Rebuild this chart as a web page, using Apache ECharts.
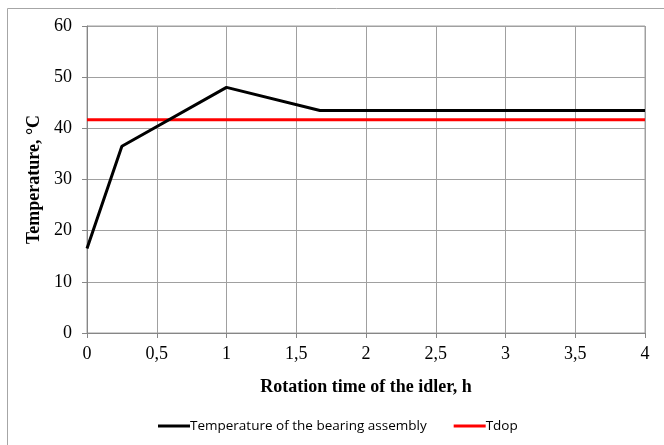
<!DOCTYPE html>
<html>
<head>
<meta charset="utf-8">
<script src="https://cdn.jsdelivr.net/npm/echarts@6/dist/echarts.min.js"></script>
<style>
  html, body { margin: 0; padding: 0; background: #fff; }
  #chart { width: 664px; height: 445px; }
</style>
</head>
<body>
<div id="chart"></div>
<script>
// Bearing assembly temperature over idler rotation time
const timeHours = [0, 0.25, 1, 1.67, 2, 3, 4];
const bearingTemp = [16.5, 36.5, 48, 43.5, 43.5, 43.5, 43.5];
const tdopTime = [0, 4];
const tdopTemp = [41.7, 41.7];

const seriesNames = ['Temperature of the bearing assembly', 'Tdop'];
const xTitle = 'Rotation time of the idler, h';
const yTitle = 'Temperature, °C';

const chart = echarts.init(document.getElementById('chart'));
const serif = '"Liberation Serif", "Times New Roman", serif';

chart.setOption({
  animation: false,
  backgroundColor: '#fff',
  graphic: [{
    type: 'rect',
    shape: { x: 7.5, y: 8.5, width: 700, height: 500 },
    style: { fill: 'none', stroke: '#a6a6a6', lineWidth: 1 },
    silent: true
  }],
  grid: { left: 87, top: 26, width: 558, height: 307, show: true, borderColor: '#a0a0a0', borderWidth: 1 },
  legend: {
    left: 153, top: 414,
    itemWidth: 32, itemHeight: 3, itemGap: 27,
    icon: 'rect',
    textStyle: { fontFamily: '"Open Sans", "Liberation Sans", sans-serif', fontSize: 13.5, color: '#000', padding: [0, 0, 0, -5] },
    data: seriesNames
  },
  xAxis: {
    type: 'value', min: 0, max: 4, interval: 0.5,
    name: xTitle, nameLocation: 'middle', nameGap: 45,
    nameTextStyle: { fontFamily: serif, fontWeight: 'bold', fontSize: 18, color: '#000' },
    axisLine: { lineStyle: { color: '#868686', width: 1 } },
    axisTick: { show: true, length: 5, lineStyle: { color: '#868686' } },
    axisLabel: { fontFamily: serif, fontSize: 18, color: '#000', margin: 12,
      formatter: v => String(v).replace('.', ',') },
    splitLine: { show: true, lineStyle: { color: '#a0a0a0', width: 1 } }
  },
  yAxis: {
    type: 'value', min: 0, max: 60, interval: 10,
    name: yTitle, nameLocation: 'middle', nameGap: 44, nameRotate: 90,
    nameTextStyle: { fontFamily: serif, fontWeight: 'bold', fontSize: 18, color: '#000' },
    axisLine: { show: true, lineStyle: { color: '#868686', width: 1 } },
    axisTick: { show: true, length: 5, lineStyle: { color: '#868686' } },
    axisLabel: { fontFamily: serif, fontSize: 18, color: '#000', margin: 15 },
    splitLine: { show: true, lineStyle: { color: '#a0a0a0', width: 1 } }
  },
  series: [
    {
      name: seriesNames[0], type: 'line', showSymbol: false, symbol: 'none',
      data: timeHours.map((t, i) => [t, bearingTemp[i]]),
      lineStyle: { color: '#000', width: 3 }, itemStyle: { color: '#000' }, z: 3
    },
    {
      name: seriesNames[1], type: 'line', showSymbol: false, symbol: 'none',
      data: tdopTime.map((t, i) => [t, tdopTemp[i]]),
      lineStyle: { color: '#ff0000', width: 3 }, itemStyle: { color: '#ff0000' }, z: 2
    }
  ]
});
</script>
</body>
</html>
